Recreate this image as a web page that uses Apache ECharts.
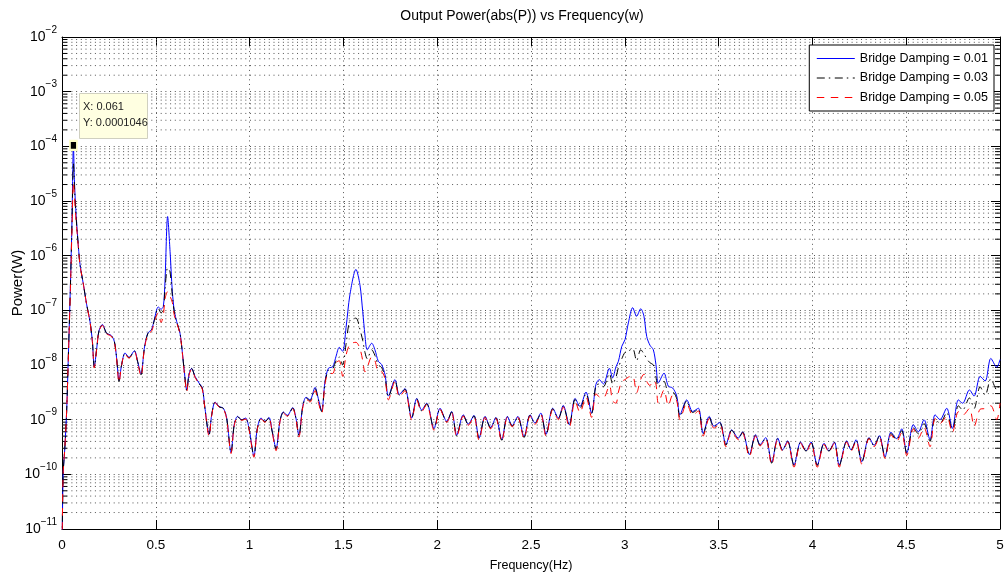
<!DOCTYPE html>
<html>
<head>
<meta charset="utf-8">
<title>Output Power vs Frequency</title>
<script src="https://cdn.jsdelivr.net/npm/echarts@6.0.0/dist/echarts.min.js"></script>
<style>
  html, body { margin: 0; padding: 0; background: #fff; }
  #main { width: 1008px; height: 577px; }
</style>
</head>
<body>
<div id="main"></div>
<script>
// frequency samples (Hz)
var freq = [
  0, 0.006, 0.015, 0.025, 0.034, 0.045, 0.053, 0.061, 0.066, 0.073,
  0.084, 0.096, 0.114, 0.131, 0.149, 0.162, 0.172, 0.185, 0.197, 0.215,
  0.238, 0.261, 0.279, 0.291, 0.304, 0.318, 0.336, 0.357, 0.386, 0.403,
  0.421, 0.439, 0.457, 0.478, 0.492, 0.513, 0.528, 0.540, 0.549, 0.563,
  0.576, 0.588, 0.599, 0.611, 0.629, 0.641, 0.652, 0.665, 0.677, 0.691,
  0.709, 0.730, 0.748, 0.762, 0.784, 0.798, 0.816, 0.837, 0.860, 0.878,
  0.901, 0.918, 0.936, 0.958, 0.979, 0.997, 1.023, 1.041, 1.061, 1.082,
  1.103, 1.121, 1.141, 1.162, 1.180, 1.201, 1.230, 1.247, 1.263, 1.283,
  1.301, 1.322, 1.349, 1.366, 1.384, 1.402, 1.420, 1.443, 1.461, 1.478,
  1.496, 1.514, 1.535, 1.567, 1.588, 1.603, 1.615, 1.627, 1.651, 1.668,
  1.686, 1.704, 1.722, 1.740, 1.775, 1.798, 1.828, 1.864, 1.891, 1.917,
  1.944, 1.983, 2.015, 2.051, 2.077, 2.104, 2.139, 2.166, 2.196, 2.223,
  2.255, 2.285, 2.313, 2.344, 2.374, 2.400, 2.430, 2.463, 2.495, 2.521,
  2.552, 2.580, 2.616, 2.646, 2.672, 2.704, 2.735, 2.761, 2.793, 2.823,
  2.846, 2.864, 2.886, 2.918, 2.935, 2.953, 2.966, 2.984, 3.001, 3.019,
  3.042, 3.063, 3.085, 3.102, 3.117, 3.134, 3.152, 3.166, 3.179, 3.209,
  3.232, 3.255, 3.277, 3.294, 3.330, 3.362, 3.392, 3.418, 3.450, 3.475,
  3.507, 3.539, 3.570, 3.605, 3.628, 3.664, 3.697, 3.721, 3.751, 3.783,
  3.815, 3.841, 3.868, 3.902, 3.937, 3.966, 3.993, 4.026, 4.062, 4.088,
  4.117, 4.143, 4.183, 4.206, 4.233, 4.263, 4.302, 4.329, 4.357, 4.387,
  4.419, 4.449, 4.476, 4.503, 4.538, 4.565, 4.595, 4.627, 4.654, 4.680,
  4.716, 4.746, 4.778, 4.801, 4.837, 4.862, 4.894, 4.921, 4.951, 4.983,
  5.0
];

// Bridge Damping = 0.01
var dampLow = [
  3e-12, 1e-10, 3e-10, 1.5e-9, 1.5e-8, 3e-7, 4e-6, 1.046e-4, 2.5e-5, 7.4e-6,
  2.1e-6, 6.9e-7, 3e-7, 1.3e-7, 6.3e-8, 2.7e-8, 9.3e-9, 2e-8, 4.2e-8, 5.5e-8,
  3.8e-8, 3.5e-8, 2.7e-8, 1.35e-8, 5.2e-9, 1.02e-8, 1.66e-8, 1.38e-8, 1.82e-8, 1.17e-8,
  6.8e-9, 2.04e-8, 3.8e-8, 4.5e-8, 6.8e-8, 1.15e-7, 1.05e-7, 1.17e-7, 3.4e-7, 5.2e-6,
  1.2e-6, 2.24e-7, 9.5e-8, 6.3e-8, 3.8e-8, 1.78e-8, 7.6e-9, 3.5e-9, 6.8e-9, 8.7e-9,
  6.2e-9, 4.7e-9, 3.8e-9, 1.62e-9, 5.4e-10, 1.23e-9, 2.1e-9, 1.74e-9, 1.62e-9, 1.07e-9,
  2.5e-10, 8.1e-10, 1.15e-9, 1.0e-9, 1.07e-9, 6.9e-10, 2.2e-10, 6.9e-10, 1.07e-9, 9.3e-10,
  1.1e-9, 6.0e-10, 2.95e-10, 9.5e-10, 1.38e-9, 1.2e-9, 1.66e-9, 1.07e-9, 5.2e-10, 1.74e-9,
  2.57e-9, 2.3e-9, 3.9e-9, 2.45e-9, 1.45e-9, 5e-9, 8.7e-9, 9.3e-9, 1.45e-8, 2.1e-8,
  1.78e-8, 4.8e-8, 1.95e-7, 5.6e-7, 2.95e-7, 9.5e-8, 3.5e-8, 1.9e-8, 2.5e-8, 1.9e-8,
  1.17e-8, 1.02e-8, 6.6e-9, 2.7e-9, 5.4e-9, 2.9e-9, 3.7e-9, 1.07e-9, 2.45e-9, 1.5e-9,
  2.0e-9, 6.9e-10, 1.62e-9, 9.3e-10, 1.41e-9, 5.2e-10, 1.23e-9, 8.3e-10, 1.2e-9, 4.6e-10,
  1.15e-9, 7.2e-10, 1.1e-9, 4.3e-10, 1.15e-9, 7.8e-10, 1.15e-9, 4.9e-10, 1.23e-9, 8.7e-10,
  1.32e-9, 5.4e-10, 1.62e-9, 1.07e-9, 1.82e-9, 8.1e-10, 2.45e-9, 1.74e-9, 3.2e-9, 1.32e-9,
  4.4e-9, 5.4e-9, 4.5e-9, 8.7e-9, 5.8e-9, 9.3e-9, 1.17e-8, 2.2e-8, 2.9e-8, 5.9e-8,
  1.12e-7, 7.8e-8, 1.07e-7, 7.8e-8, 3.3e-8, 2.3e-8, 1.9e-8, 1.02e-8, 4.7e-9, 7.1e-9,
  4.1e-9, 3.8e-9, 2.7e-9, 1.23e-9, 2.3e-9, 1.41e-9, 1.62e-9, 5.6e-10, 1.15e-9, 7.6e-10,
  8.9e-10, 3.5e-10, 6.5e-10, 4.6e-10, 6.0e-10, 2.3e-10, 5.3e-10, 3.5e-10, 4.7e-10, 1.66e-10,
  4.6e-10, 2.8e-10, 4.1e-10, 1.48e-10, 3.9e-10, 2.7e-10, 3.9e-10, 1.48e-10, 3.7e-10, 2.7e-10,
  3.9e-10, 1.48e-10, 4.1e-10, 2.8e-10, 4.3e-10, 1.7e-10, 4.7e-10, 3.4e-10, 5.1e-10, 2.1e-10,
  5.9e-10, 4.5e-10, 6.8e-10, 2.45e-10, 8.1e-10, 6.0e-10, 1.0e-9, 4.3e-10, 1.23e-9, 1.0e-9,
  1.62e-9, 6.9e-10, 2.3e-9, 2.0e-9, 3.5e-9, 2.7e-9, 6.2e-9, 5.1e-9, 1.32e-8, 9.1e-9,
  1.26e-8
];

// Bridge Damping = 0.03
var dampMid = [
  3e-12, 1e-10, 3e-10, 1.5e-9, 1.5e-8, 2.8e-7, 3.5e-6, 5e-5, 2e-5, 6.5e-6,
  2.0e-6, 6.9e-7, 3e-7, 1.3e-7, 6.3e-8, 2.7e-8, 9.1e-9, 2e-8, 4.2e-8, 5.4e-8,
  3.8e-8, 3.5e-8, 2.7e-8, 1.35e-8, 5.0e-9, 1.02e-8, 1.64e-8, 1.36e-8, 1.8e-8, 1.15e-8,
  6.6e-9, 2.0e-8, 3.7e-8, 4.4e-8, 6.5e-8, 1.1e-7, 9e-8, 1.0e-7, 2.4e-7, 6e-7,
  5e-7, 1.9e-7, 9e-8, 6.2e-8, 3.8e-8, 1.76e-8, 7.5e-9, 3.4e-9, 6.7e-9, 8.6e-9,
  6.1e-9, 4.6e-9, 3.7e-9, 1.6e-9, 5.2e-10, 1.22e-9, 2.1e-9, 1.72e-9, 1.6e-9, 1.05e-9,
  2.45e-10, 8.0e-10, 1.13e-9, 9.9e-10, 1.05e-9, 6.8e-10, 2.15e-10, 6.8e-10, 1.05e-9, 9.2e-10,
  1.08e-9, 5.9e-10, 2.85e-10, 9.4e-10, 1.36e-9, 1.18e-9, 1.62e-9, 1.05e-9, 5.0e-10, 1.7e-9,
  2.5e-9, 2.2e-9, 3.7e-9, 2.3e-9, 1.4e-9, 4.8e-9, 8e-9, 8.5e-9, 1.2e-8, 1.4e-8,
  1.0e-8, 2.4e-8, 6.5e-8, 7.2e-8, 4.5e-8, 2.8e-8, 1.7e-8, 1.3e-8, 1.9e-8, 1.5e-8,
  1.0e-8, 9e-9, 6e-9, 2.6e-9, 5.2e-9, 2.8e-9, 3.6e-9, 1.05e-9, 2.4e-9, 1.45e-9,
  1.95e-9, 6.7e-10, 1.58e-9, 9.1e-10, 1.38e-9, 5.0e-10, 1.2e-9, 8.1e-10, 1.17e-9, 4.5e-10,
  1.12e-9, 7.0e-10, 1.08e-9, 4.2e-10, 1.12e-9, 7.6e-10, 1.12e-9, 4.7e-10, 1.2e-9, 8.5e-10,
  1.28e-9, 5.2e-10, 1.58e-9, 1.04e-9, 1.75e-9, 7.8e-10, 2.35e-9, 1.6e-9, 3.0e-9, 1.3e-9,
  4.2e-9, 4.5e-9, 4.0e-9, 7e-9, 4.5e-9, 6e-9, 9e-9, 1.3e-8, 1.7e-8, 1.8e-8,
  2.0e-8, 1.2e-8, 1.9e-8, 1.6e-8, 1.3e-8, 1.1e-8, 1.0e-8, 6e-9, 4e-9, 5e-9,
  3.2e-9, 3.2e-9, 2.4e-9, 1.1e-9, 2.2e-9, 1.35e-9, 1.55e-9, 5.4e-10, 1.1e-9, 7.4e-10,
  8.7e-10, 3.4e-10, 6.4e-10, 4.5e-10, 5.9e-10, 2.25e-10, 5.2e-10, 3.4e-10, 4.6e-10, 1.6e-10,
  4.5e-10, 2.75e-10, 4.0e-10, 1.45e-10, 3.85e-10, 2.65e-10, 3.85e-10, 1.45e-10, 3.65e-10, 2.65e-10,
  3.85e-10, 1.45e-10, 4.0e-10, 2.75e-10, 4.2e-10, 1.65e-10, 4.6e-10, 3.3e-10, 5.0e-10, 2.05e-10,
  5.6e-10, 4.3e-10, 6.3e-10, 2.4e-10, 7.2e-10, 5.5e-10, 8.5e-10, 4.0e-10, 1.05e-9, 8.5e-10,
  1.35e-9, 6.0e-10, 1.8e-9, 1.5e-9, 2.5e-9, 1.6e-9, 4.0e-9, 2.8e-9, 5.6e-9, 3.5e-9,
  5.0e-9
];

// Bridge Damping = 0.05
var dampHigh = [
  3e-12, 1e-10, 3e-10, 1.5e-9, 1.4e-8, 2.5e-7, 2.8e-6, 2.2e-5, 1.3e-5, 5.5e-6,
  1.9e-6, 6.7e-7, 3e-7, 1.3e-7, 6.2e-8, 2.6e-8, 8.8e-9, 2e-8, 4.1e-8, 5.3e-8,
  3.7e-8, 3.4e-8, 2.6e-8, 1.3e-8, 4.8e-9, 1.0e-8, 1.6e-8, 1.33e-8, 1.75e-8, 1.12e-8,
  6.2e-9, 1.95e-8, 3.6e-8, 4.2e-8, 6.0e-8, 9e-8, 6e-8, 8e-8, 1.6e-7, 2.2e-7,
  1.8e-7, 1.4e-7, 8e-8, 6e-8, 3.7e-8, 1.72e-8, 7.3e-9, 3.2e-9, 6.5e-9, 8.4e-9,
  6.0e-9, 4.5e-9, 3.6e-9, 1.55e-9, 5.0e-10, 1.2e-9, 2.05e-9, 1.7e-9, 1.58e-9, 1.02e-9,
  2.4e-10, 7.8e-10, 1.1e-9, 9.7e-10, 1.03e-9, 6.6e-10, 2.05e-10, 6.6e-10, 1.03e-9, 9.0e-10,
  1.05e-9, 5.7e-10, 2.7e-10, 9.2e-10, 1.33e-9, 1.15e-9, 1.58e-9, 1.02e-9, 4.8e-10, 1.65e-9,
  2.4e-9, 2.1e-9, 3.4e-9, 2.1e-9, 1.3e-9, 4.5e-9, 7e-9, 7e-9, 1.1e-8, 1.2e-8,
  6.2e-9, 1.5e-8, 2.4e-8, 2.6e-8, 2.0e-8, 1.2e-8, 7.5e-9, 9e-9, 1.4e-8, 1.2e-8,
  7.5e-9, 7.5e-9, 5.5e-9, 2.3e-9, 5.0e-9, 2.6e-9, 3.4e-9, 1.0e-9, 2.3e-9, 1.4e-9,
  1.9e-9, 6.4e-10, 1.55e-9, 8.9e-10, 1.35e-9, 4.8e-10, 1.17e-9, 7.9e-10, 1.14e-9, 4.2e-10,
  1.1e-9, 6.8e-10, 1.05e-9, 4.0e-10, 1.1e-9, 7.4e-10, 1.1e-9, 4.5e-10, 1.17e-9, 8.2e-10,
  1.25e-9, 5.0e-10, 1.52e-9, 1.0e-9, 1.7e-9, 7.2e-10, 2.2e-9, 1.35e-9, 2.6e-9, 1.1e-9,
  3.0e-9, 2.6e-9, 2.5e-9, 4.2e-9, 2.2e-9, 2.0e-9, 3.2e-9, 5.0e-9, 5.4e-9, 6.0e-9,
  6.3e-9, 3.1e-9, 5.5e-9, 6.8e-9, 5e-9, 4.2e-9, 5.2e-9, 4.5e-9, 2.0e-9, 3.5e-9,
  1.8e-9, 2.8e-9, 2.2e-9, 1.0e-9, 2.0e-9, 1.2e-9, 1.45e-9, 5.0e-10, 1.05e-9, 7.0e-10,
  8.3e-10, 3.2e-10, 6.2e-10, 4.3e-10, 5.7e-10, 2.1e-10, 5.0e-10, 3.3e-10, 4.5e-10, 1.5e-10,
  4.4e-10, 2.65e-10, 3.9e-10, 1.35e-10, 3.75e-10, 2.55e-10, 3.75e-10, 1.35e-10, 3.55e-10, 2.55e-10,
  3.75e-10, 1.35e-10, 3.9e-10, 2.65e-10, 4.1e-10, 1.55e-10, 4.5e-10, 3.2e-10, 4.8e-10, 1.95e-10,
  5.3e-10, 4.0e-10, 5.8e-10, 2.2e-10, 6.8e-10, 4.6e-10, 7.2e-10, 3.2e-10, 1.05e-9, 8.5e-10,
  1.15e-9, 5.8e-10, 1.4e-9, 1.2e-9, 1.6e-9, 7.5e-10, 1.55e-9, 1.6e-9, 1.8e-9, 1.0e-9,
  2.0e-9
];

var seriesNames = ["Bridge Damping = 0.01", "Bridge Damping = 0.03", "Bridge Damping = 0.05"];
var seriesColors = ["#0000ff", "#000000", "#ff0000"];
var seriesDash = ["solid", [8, 4, 1.5, 4.5], [7.5, 6.5]];
var seriesValues = [dampLow, dampMid, dampHigh];

// data tip
var tipX = 0.061;
var tipY = 0.0001046;

var FONT = "Liberation Sans, Arial, Helvetica, sans-serif";
var GRID_COLOR = "#555";
var DOTS = [1, 3.7];

// minor log grid (2..9 in every decade)
var minorGrid = [];
for (var e = -11; e < -2; e++) {
  for (var m = 2; m <= 9; m++) {
    minorGrid.push(m * Math.pow(10, e));
  }
}

var myChart = echarts.init(document.getElementById("main"), null, { renderer: "canvas" });

var series = [];
// minor grid lines + small ticks on both frame sides
series.push({
  type: "custom",
  name: "minorGrid",
  silent: true,
  z: 1,
  data: minorGrid.map(function (v) { return [0, v]; }),
  renderItem: function (params, api) {
    var v = api.value(1);
    var a = api.coord([0, v]);
    var b = api.coord([5, v]);
    return {
      type: "group",
      children: [{
        type: "line",
        shape: { x1: a[0], y1: a[1], x2: b[0], y2: b[1] },
        style: { stroke: GRID_COLOR, lineWidth: 1, lineDash: DOTS }
      }, {
        type: "line",
        shape: { x1: a[0], y1: a[1], x2: a[0] + 5, y2: a[1] },
        style: { stroke: "#000", lineWidth: 1 }
      }, {
        type: "line",
        shape: { x1: b[0] - 5, y1: b[1], x2: b[0], y2: b[1] },
        style: { stroke: "#000", lineWidth: 1 }
      }]
    };
  }
});

for (var i = 0; i < 3; i++) {
  var s = {
    name: seriesNames[i],
    type: "line",
    data: freq.map(function (f, k) { return [f, seriesValues[i][k]]; }),
    symbol: "none",
    smooth: 0.3,
    clip: true,
    lineStyle: { color: seriesColors[i], width: 1, type: seriesDash[i] },
    itemStyle: { color: seriesColors[i] },
    z: 3
  };
  if (i === 0) {
    s.markPoint = {
      symbol: "rect",
      symbolSize: [7, 9],
      silent: true,
      label: { show: false },
      itemStyle: { color: "#000", borderColor: "#ffffc8", borderWidth: 2 },
      data: [{ coord: [tipX, tipY] }]
    };
  }
  series.push(s);
}

var option = {
  animation: false,
  backgroundColor: "#fff",
  textStyle: { fontFamily: FONT },
  grid: { left: 62, right: 8, top: 37, bottom: 48, outerBoundsMode: "none", containLabel: false },
  legend: {
    data: seriesNames.map(function (n, k) {
      return {
        name: n,
        itemStyle: { opacity: 0 },
        lineStyle: { color: seriesColors[k], type: seriesDash[k], width: 1 }
      };
    }),
    orient: "vertical",
    right: 14,
    top: 45,
    padding: [7, 6, 7, 7],
    itemGap: 6.5,
    itemWidth: 38,
    itemHeight: 14,
    borderColor: "#000",
    borderWidth: 1,
    backgroundColor: "#fff",
    textStyle: { fontSize: 12.5, color: "#000", fontFamily: FONT }
  },
  xAxis: [{
    type: "value",
    min: 0,
    max: 5,
    interval: 0.5,
    position: "bottom",
    name: "Frequency(Hz)",
    nameLocation: "middle",
    nameGap: 30,
    nameTextStyle: { fontSize: 12.5, color: "#000", fontFamily: FONT },
    axisLine: { show: true, onZero: false, lineStyle: { color: "#000", width: 1 } },
    axisTick: { show: true, inside: true, length: 9, lineStyle: { color: "#000" } },
    axisLabel: { color: "#000", fontSize: 13.5, margin: 9, fontFamily: FONT },
    splitLine: { show: true, lineStyle: { color: GRID_COLOR, type: DOTS, width: 1 } }
  }, {
    type: "value",
    min: 0,
    max: 5,
    interval: 0.5,
    position: "top",
    axisLine: { show: true, onZero: false, lineStyle: { color: "#000", width: 1 } },
    axisTick: { show: true, inside: true, length: 9, lineStyle: { color: "#000" } },
    axisLabel: { show: false },
    splitLine: { show: false }
  }],
  yAxis: [{
    type: "log",
    logBase: 10,
    min: 1e-11,
    max: 1e-2,
    splitNumber: 9,
    position: "left",
    name: "Power(W)",
    nameLocation: "middle",
    nameRotate: 90,
    nameGap: 37,
    nameMoveOverlap: false,
    nameTextStyle: { fontSize: 15, color: "#000", fontFamily: FONT },
    axisLine: { show: true, onZero: false, lineStyle: { color: "#000", width: 1 } },
    axisTick: { show: true, inside: true, length: 9, lineStyle: { color: "#000" } },
    axisLabel: {
      margin: 5,
      formatter: function (v) {
        var ex = Math.round(Math.log10(v));
        return "{b|10}{s|" + String(ex).replace("-", "\u2212") + "}";
      },
      rich: {
        b: { fontSize: 14, color: "#000", fontFamily: FONT },
        s: { fontSize: 10, color: "#000", fontFamily: FONT, padding: [0, 0, 14, 0] }
      }
    },
    splitLine: { show: true, lineStyle: { color: GRID_COLOR, type: DOTS, width: 1 } }
  }, {
    type: "log",
    logBase: 10,
    min: 1e-11,
    max: 1e-2,
    splitNumber: 9,
    position: "right",
    axisLine: { show: true, onZero: false, lineStyle: { color: "#000", width: 1 } },
    axisTick: { show: true, inside: true, length: 9, lineStyle: { color: "#000" } },
    axisLabel: { show: false },
    splitLine: { show: false }
  }],
  graphic: [{
    type: "text",
    x: 522,
    y: 16,
    style: {
      text: "Output Power(abs(P)) vs Frequency(w)",
      fontSize: 14,
      fontFamily: FONT,
      fill: "#000",
      align: "center",
      verticalAlign: "middle"
    }
  }, {
    type: "rect",
    left: 79,
    top: 93,
    z: 10,
    shape: { width: 68, height: 45 },
    style: { fill: "#ffffe1", stroke: "#d0d0c0", lineWidth: 1 }
  }, {
    type: "text",
    left: 83,
    top: 101,
    z: 11,
    style: { text: "X: 0.061", fontSize: 11, fontFamily: FONT, fill: "#222" }
  }, {
    type: "text",
    left: 83,
    top: 117,
    z: 11,
    style: { text: "Y: 0.0001046", fontSize: 11, fontFamily: FONT, fill: "#222" }
  }],
  series: series
};

myChart.setOption(option);

window.addEventListener("resize", function () {
  myChart.resize();
});
</script>
</body>
</html>
